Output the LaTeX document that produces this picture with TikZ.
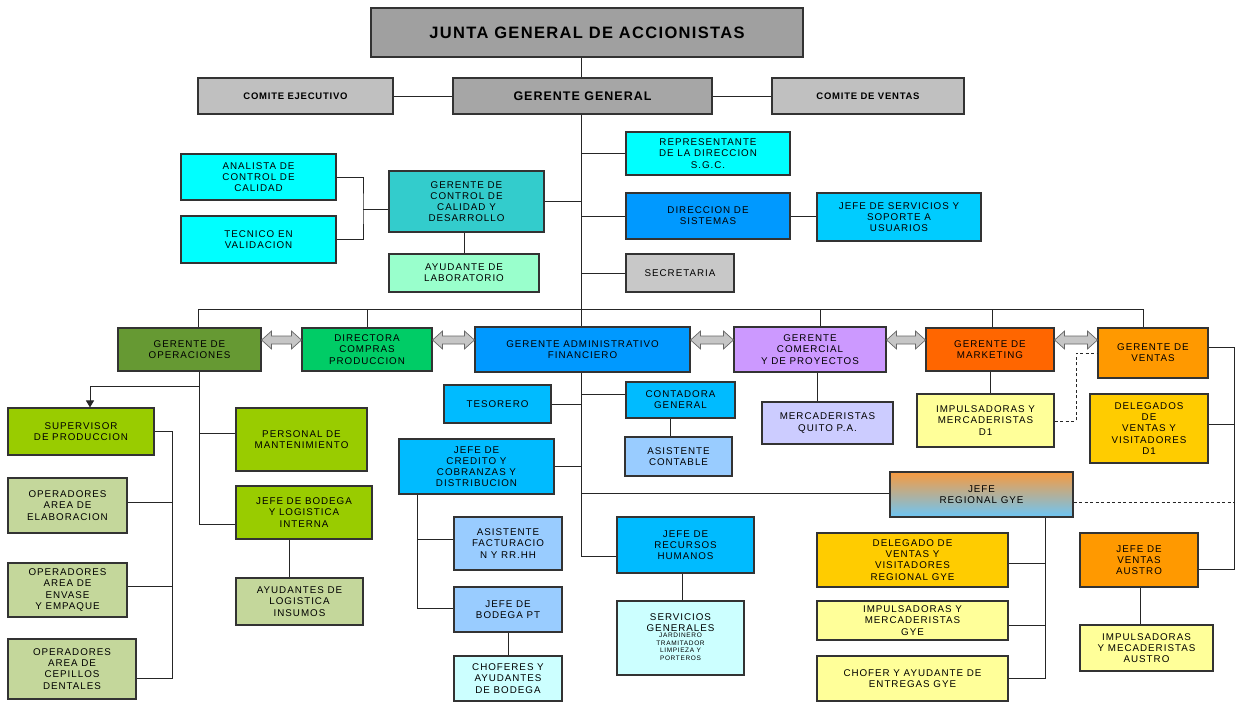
\documentclass[tikz,border=0pt]{standalone}
\usepackage{fontspec}
\setmainfont{Liberation Sans}
\newfontfamily\bxf{Liberation Sans}[LetterSpace=10]
\newfontfamily\hdf{Liberation Sans}[LetterSpace=8]
\usetikzlibrary{calc,arrows.meta}
\definecolor{cJunta}{HTML}{A0A0A0}
\definecolor{cGG}{HTML}{A6A6A6}
\definecolor{cCom}{HTML}{C0C0C0}
\definecolor{cCy}{HTML}{00FFFF}
\definecolor{cTeal}{HTML}{33CCCC}
\definecolor{cMint}{HTML}{99FFCC}
\definecolor{cBlue}{HTML}{0099FF}
\definecolor{cSky}{HTML}{00CCFF}
\definecolor{cSky2}{HTML}{00BBFF}
\definecolor{cSec}{HTML}{C8C8C8}
\definecolor{cOlive}{HTML}{669933}
\definecolor{cGreen}{HTML}{00CC66}
\definecolor{cLav}{HTML}{CC99FF}
\definecolor{cOrR}{HTML}{FF6600}
\definecolor{cOr}{HTML}{FF9900}
\definecolor{cLB}{HTML}{99CCFF}
\definecolor{cPeri}{HTML}{CCCCFF}
\definecolor{cYel}{HTML}{FFFF99}
\definecolor{cGold}{HTML}{FFCC00}
\definecolor{cLime}{HTML}{99CC00}
\definecolor{cSage}{HTML}{C4D79B}
\definecolor{cIce}{HTML}{CCFFFF}
\definecolor{cJtop}{HTML}{F79A40}
\definecolor{cJmid}{HTML}{C8B4C4}
\definecolor{cJbot}{HTML}{6CC6F6}
\newcommand\bx[7]{\node[box,#6,minimum width={#4-#2},minimum height={#5-#3}] (#1) at ({(#2+#4)/2},{(#3+#5)/2}) {#7};}
\newcommand\smalllines[1]{{\fontsize{6.5}{7.4}\selectfont\begin{tabular}{@{}c@{}}#1\end{tabular}}}
\newcommand\dblarr[2]{%
  \coordinate (da1) at (#1.east |- 0,340);
  \coordinate (da2) at (#2.west |- 0,340);
  \draw[arrblk] (da1) -- ++(10,-9) -- ++(0,5) -- ($(da2)+(-10,-4)$) -- ++(0,-5) -- (da2)
     -- ++(-10,9) -- ++(0,-5) -- ($(da1)+(10,4)$) -- ++(0,5) -- cycle;}
\begin{document}
\begin{tikzpicture}[x=1pt,y=-1pt,
  box/.style={draw=black!80,line width=1.1pt,inner sep=1pt,align=center,
    font=\bxf\fontsize{9.8}{11.2}\selectfont,text=black},
  hd/.style={font=\hdf\bfseries\fontsize{9.5}{11}\selectfont},
  conn/.style={draw=black!85,line width=0.9pt},
  dline/.style={dash pattern=on 3pt off 2.5pt,line width=1pt},
  arrblk/.style={fill=gray!45,draw=black!60,line width=0.7pt,line join=miter}]
\useasboundingbox (0,0) rectangle (1236,702);
\fill[white] (0,0) rectangle (1236,702);

% boxes
\bx{junta}{371}{8}{803}{57}{fill=cJunta,font=\hdf\bfseries\fontsize{16.5}{18}\selectfont}{JUNTA GENERAL DE ACCIONISTAS}
\bx{ce}{198}{78}{393}{114}{fill=cCom,hd}{COMITE EJECUTIVO}
\bx{gg}{453}{78}{712}{114}{fill=cGG,font=\hdf\bfseries\fontsize{12.5}{14}\selectfont}{GERENTE GENERAL}
\bx{cv}{772}{78}{964}{114}{fill=cCom,hd}{COMITE DE VENTAS}
\bx{ana}{181}{154}{336}{200}{fill=cCy}{ANALISTA DE\\CONTROL DE\\CALIDAD}
\bx{tec}{181}{216}{336}{263}{fill=cCy}{TECNICO EN\\VALIDACION}
\bx{gcc}{389}{171}{544}{232}{fill=cTeal}{GERENTE DE\\CONTROL DE\\CALIDAD Y\\DESARROLLO}
\bx{ayl}{389}{254}{539}{292}{fill=cMint}{AYUDANTE DE\\LABORATORIO}
\bx{rep}{626}{132}{790}{175}{fill=cCy}{REPRESENTANTE\\DE LA DIRECCION\\S.G.C.}
\bx{dsis}{626}{193}{790}{239}{fill=cBlue}{DIRECCION DE\\SISTEMAS}
\bx{jss}{817}{193}{981}{241}{fill=cSky}{JEFE DE SERVICIOS Y\\SOPORTE A\\USUARIOS}
\bx{sec}{626}{254}{734}{292}{fill=cSec}{SECRETARIA}
\bx{gops}{118}{328}{261}{371}{fill=cOlive}{GERENTE DE\\OPERACIONES}
\bx{dir}{302}{328}{432}{371}{fill=cGreen}{DIRECTORA\\COMPRAS\\PRODUCCION}
\bx{adm}{475}{327}{690}{372}{fill=cBlue}{GERENTE ADMINISTRATIVO\\FINANCIERO}
\bx{gcom}{734}{327}{886}{372}{fill=cLav}{GERENTE\\COMERCIAL\\Y DE PROYECTOS}
\bx{gmk}{926}{328}{1054}{371}{fill=cOrR}{GERENTE DE\\MARKETING}
\bx{gven}{1098}{328}{1208}{378}{fill=cOr}{GERENTE DE\\VENTAS}
\bx{teso}{444}{385}{551}{423}{fill=cSky2}{TESORERO}
\bx{cont}{626}{382}{735}{418}{fill=cSky2}{CONTADORA\\GENERAL}
\bx{acon}{625}{437}{732}{476}{fill=cLB}{ASISTENTE\\CONTABLE}
\bx{mq}{762}{402}{893}{444}{fill=cPeri}{MERCADERISTAS\\QUITO P.A.}
\bx{imd1}{917}{394}{1054}{447}{fill=cYel}{IMPULSADORAS Y\\MERCADERISTAS\\D1}
\bx{del1}{1090}{394}{1208}{463}{fill=cGold}{DELEGADOS\\DE\\VENTAS Y\\VISITADORES\\D1}
\bx{jcr}{399}{439}{554}{494}{fill=cSky2}{JEFE DE\\CREDITO Y\\COBRANZAS Y\\DISTRIBUCION}
\bx{jreg}{890}{472}{1073}{517}{top color=cJtop,middle color=cJmid,bottom color=cJbot}{JEFE\\REGIONAL GYE}
\bx{sup}{8}{408}{154}{455}{fill=cLime}{SUPERVISOR\\DE PRODUCCION}
\bx{pman}{236}{408}{367}{471}{fill=cLime}{PERSONAL DE\\MANTENIMIENTO}
\bx{oela}{8}{478}{127}{533}{fill=cSage}{OPERADORES\\AREA DE\\ELABORACION}
\bx{oenv}{8}{563}{127}{617}{fill=cSage}{OPERADORES\\AREA DE\\ENVASE\\Y EMPAQUE}
\bx{ocep}{8}{639}{136}{699}{fill=cSage}{OPERADORES\\AREA DE\\CEPILLOS\\DENTALES}
\bx{jbod}{236}{486}{372}{539}{fill=cLime}{JEFE DE BODEGA\\Y LOGISTICA\\INTERNA}
\bx{ayi}{236}{578}{363}{625}{fill=cSage}{AYUDANTES DE\\LOGISTICA\\INSUMOS}
\bx{afac}{454}{517}{562}{570}{fill=cLB}{ASISTENTE\\FACTURACIO\\N Y RR.HH}
\bx{jbpt}{454}{587}{562}{632}{fill=cLB}{JEFE DE\\BODEGA PT}
\bx{chb}{454}{656}{562}{701}{fill=cIce}{CHOFERES Y\\AYUDANTES\\DE BODEGA}
\bx{jrh}{617}{517}{754}{573}{fill=cSky2}{JEFE DE\\RECURSOS\\HUMANOS}
\bx{sg}{617}{601}{744}{675}{fill=cIce}{SERVICIOS\\GENERALES\\\smalllines{JARDINERO\\TRAMITADOR\\LIMPIEZA Y\\PORTEROS}}
\bx{dgye}{817}{533}{1008}{587}{fill=cGold}{DELEGADO DE\\VENTAS Y\\VISITADORES\\REGIONAL GYE}
\bx{imgye}{817}{601}{1008}{640}{fill=cYel}{IMPULSADORAS Y\\MERCADERISTAS\\GYE}
\bx{cho}{817}{656}{1008}{701}{fill=cYel}{CHOFER Y AYUDANTE DE\\ENTREGAS GYE}
\bx{jva}{1080}{533}{1198}{587}{fill=cOr}{JEFE DE\\VENTAS\\AUSTRO}
\bx{ima}{1080}{625}{1213}{671}{fill=cYel}{IMPULSADORAS\\Y MECADERISTAS\\AUSTRO}

% trunk and upper connectors
\coordinate (tr) at (581,0);
\draw[conn] (junta.south -| tr) -- (gg.north -| tr);
\draw[conn] (ce.east) -- (gg.west);
\draw[conn] (gg.east) -- (cv.west);
\draw[conn] (gg.south -| tr) -- (adm.north -| tr);
\draw[conn] (rep.west) -- (rep.west -| tr);
\draw[conn] (gcc.east) -- (gcc.east -| tr);
\draw[conn] (dsis.west) -- (dsis.west -| tr);
\draw[conn] (sec.west) -- (sec.west -| tr);
\draw[conn] (dsis.east) -- (jss.west |- dsis.east);
\coordinate (j1) at (363,209);
\draw[conn] (ana.east) -| (j1) |- (tec.east);
\draw[conn] (j1) -- (gcc.west |- j1);
\draw[conn] (gcc.south -| ayl.north) -- (ayl.north);

% bus
\coordinate (bl) at (198,309);
\coordinate (br) at (1143,309);
\draw[conn] (gops.north -| bl) |- (br) -- (br |- gven.north);
\draw[conn] (dir.north) -- (dir.north |- bl);
\draw[conn] (gcom.north -| 820,0) -- (820,309);
\draw[conn] (gmk.north -| 992,0) -- (992,309);

% block double arrows
\dblarr{gops}{dir}
\dblarr{dir}{adm}
\dblarr{adm}{gcom}
\dblarr{gcom}{gmk}
\dblarr{gmk}{gven}

% operaciones
\coordinate (o1) at (199,386);
\draw[conn] (gops.south -| o1) -- (199,524) -- (jbod.west |- 0,524);
\draw[conn] (199,433) -- (pman.west |- 0,433);
\draw[conn,-{Triangle[length=7pt,width=8pt]}] (o1) -| (sup.north -| 90,0);
\coordinate (sv) at (172,678);
\draw[conn] (sup.east) -| (sv) -- (ocep.east |- sv);
\draw[conn] (oela.east |- 0,502) -- (172,502);
\draw[conn] (oenv.east |- 0,586) -- (172,586);
\draw[conn] (jbod.south -| 289,0) -- (ayi.north -| 289,0);

% administrativo
\draw[conn] (adm.south -| tr) -- (581,556) -- (jrh.west |- 0,556);
\draw[conn] (teso.east) -- (teso.east -| tr);
\draw[conn] (cont.west |- 0,394) -- (581,394);
\draw[conn] (jcr.east) -- (jcr.east -| tr);
\draw[conn] (581,493) -- (jreg.west |- 0,493);
\draw[conn] (cont.south -| 670,0) -- (acon.north -| 670,0);
\draw[conn] (jcr.south -| 417,0) -- (417,608) -- (jbpt.west |- 0,608);
\draw[conn] (417,539) -- (afac.west |- 0,539);
\draw[conn] (jbpt.south -| 508,0) -- (chb.north -| 508,0);
\draw[conn] (jrh.south -| 682,0) -- (sg.north -| 682,0);

% comercial / marketing / ventas
\draw[conn] (gcom.south -| 817,0) -- (mq.north -| 817,0);
\draw[conn] (gmk.south -| 990,0) -- (imd1.north -| 990,0);
\draw[conn,dline] (imd1.east |- 0,421) -| (1076,353) -- (gven.west |- 0,353);
\coordinate (rr) at (1234,569);
\draw[conn] (gven.east |- 0,347) -| (rr) -- (jva.east |- rr);
\draw[conn] (del1.east |- 0,424) -- (1234,424);
\draw[conn,dline] (jreg.east |- 0,502) -- (1234,502);
\draw[conn] (jreg.south -| 1045,0) -- (1045,678) -- (cho.east |- 0,678);
\draw[conn] (dgye.east |- 0,563) -- (1045,563);
\draw[conn] (imgye.east |- 0,625) -- (1045,625);
\draw[conn] (jva.south -| 1140,0) -- (ima.north -| 1140,0);
\end{tikzpicture}
\end{document}
